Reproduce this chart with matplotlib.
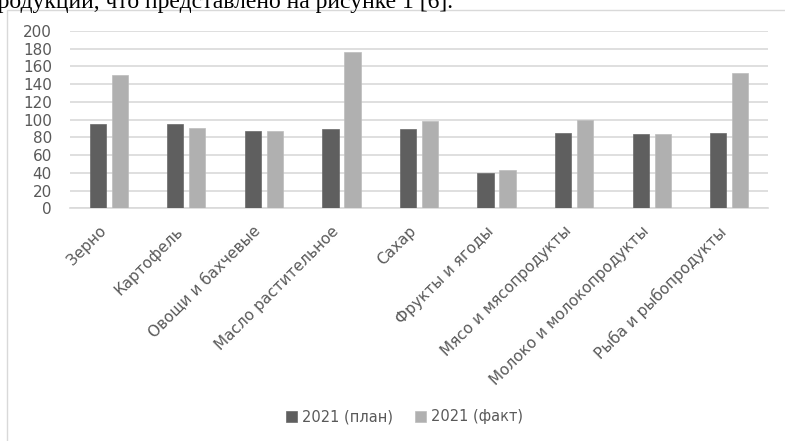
import matplotlib
matplotlib.use("Agg")
import matplotlib.pyplot as plt
import numpy as np
from matplotlib.patches import Rectangle

categories = ["Зерно", "Картофель", "Овощи и бахчевые", "Масло растительное",
              "Сахар", "Фрукты и ягоды", "Мясо и мясопродукты",
              "Молоко и молокопродукты", "Рыба и рыбопродукты"]
plan_2021 = [95, 95, 87, 89, 89, 40, 85, 84, 85]
fact_2021 = [150, 91, 87, 176, 99, 43, 100, 84, 153]
series_labels = ["2021 (план)", "2021 (факт)"]
y_ticks = [0, 20, 40, 60, 80, 100, 120, 140, 160, 180, 200]
caption = "продукции, что представлено на рисунке 1 [6]."

W, H = 785, 441
fig = plt.figure(figsize=(W / 100, H / 100), dpi=100)
fig.patch.set_facecolor("white")

text_gray = "#595959"
grid_gray = "#d9d9d9"
plan_color = "#5f5f5f"
fact_color = "#b0b0b0"

# document text line above the chart
fig.text(-15 / W, 1 - 8.3 / H, caption, fontfamily="Liberation Serif",
         fontsize=17, color="black", ha="left", va="baseline")

# chart area border
fig.patches.append(Rectangle((7 / W, -0.05), 1.1, 1 - 10 / H + 0.05,
                             transform=fig.transFigure, fill=False,
                             edgecolor=grid_gray, linewidth=1.0, zorder=0))

left, right = 70, 768
y0, y200 = 208.3, 31
ax = fig.add_axes([left / W, 1 - y0 / H, (right - left) / W, (y0 - y200) / H])
ax.set_facecolor("none")

x = np.arange(len(categories))
bw = 0.21
off = 0.142
ax.bar(x - off, plan_2021, width=bw, color=plan_color, edgecolor="#6a6a6a",
       linewidth=0.5, label=series_labels[0], zorder=3)
ax.bar(x + off, fact_2021, width=bw, color=fact_color, edgecolor="#bcbcbc",
       linewidth=0.5, label=series_labels[1], zorder=3)

ax.set_xlim(-0.5, len(categories) - 0.5)
ax.set_ylim(0, 200)
ax.set_yticks(y_ticks)
ax.yaxis.grid(True, color=grid_gray, linewidth=1.2, zorder=0)
ax.set_axisbelow(True)
for s in ["left", "right", "top"]:
    ax.spines[s].set_visible(False)
ax.spines["bottom"].set_color(grid_gray)
ax.spines["bottom"].set_linewidth(1.2)

ax.tick_params(axis="both", length=0, colors=text_gray)
ax.tick_params(axis="y", pad=13, labelsize=11)
ax.tick_params(axis="x", pad=11, labelsize=11)
ax.set_xticks(x)
ax.set_xticklabels(categories, rotation=45, ha="right")

leg = fig.legend(loc="center", bbox_to_anchor=(404.5 / W, 1 - 417 / H),
                 ncol=2, frameon=False, fontsize=10.5, handlelength=0.75,
                 handleheight=0.75, handletextpad=0.4, columnspacing=1.45,
                 labelcolor=text_gray)

fig.savefig("out.png", dpi=100, facecolor="white")
